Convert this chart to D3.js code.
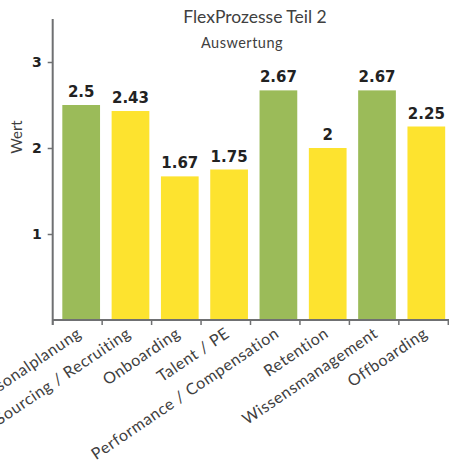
<!DOCTYPE html>
<html>
<head>
<meta charset="utf-8">
<script src="https://cdn.jsdelivr.net/npm/d3@7"></script>
<style>
  html, body { margin: 0; padding: 0; background: #fff; }
  svg { display: block; font-family: Lato, "Open Sans", sans-serif; }
</style>
</head>
<body>
<svg id="chart" width="449" height="472"></svg>
<script>
// Process areas and their average score
const categories = [
  "Personalplanung",
  "Sourcing / Recruiting",
  "Onboarding",
  "Talent / PE",
  "Performance / Compensation",
  "Retention",
  "Wissensmanagement",
  "Offboarding"
];
const values = [2.5, 2.43, 1.67, 1.75, 2.67, 2, 2.67, 2.25];
const barColors = ["#9bbb59", "#fde32f", "#fde32f", "#fde32f", "#9bbb59", "#fde32f", "#9bbb59", "#fde32f"];
const yTicks = [1, 2, 3];

const titleText = "FlexProzesse Teil 2";
const subtitleText = "Auswertung";
const yLabel = "Wert";

const svg = d3.select("#chart");
const axisColor = "#6f7072";
const textColor = "#404040";

const left = 52.7, right = 448.3, bottom = 320;

// Band scale for the category axis (ticks sit on band edges)
const xAxisScale = d3.scaleBand().domain(categories).range([left, right]);
// Band scale for the bars
const xBar = d3.scaleBand().domain(categories).range([56.5, 451]).paddingInner(0.235).paddingOuter(0.118);
const y = d3.scaleLinear().domain([0, 3.5]).range([bottom, bottom - 3.5 * 86]);

// Bars
svg.append("g").selectAll("rect")
  .data(categories)
  .join("rect")
  .attr("x", d => xBar(d))
  .attr("width", xBar.bandwidth())
  .attr("y", (d, i) => y(values[i]))
  .attr("height", (d, i) => y(0) - y(values[i]))
  .attr("fill", (d, i) => barColors[i]);

// Value labels
svg.append("g").selectAll("text")
  .data(categories)
  .join("text")
  .attr("x", d => xBar(d) + xBar.bandwidth() / 2)
  .attr("y", (d, i) => y(values[i]) - 8)
  .attr("text-anchor", "middle")
  .attr("font-family", "DejaVu Sans")
  .attr("font-weight", "bold")
  .attr("font-size", 15)
  .attr("fill", "#222")
  .text((d, i) => d3.format("~g")(values[i]));

// Y axis
const yAxis = svg.append("g")
  .attr("transform", `translate(${left},0)`)
  .call(d3.axisLeft(y).tickValues(yTicks).tickSize(5).tickPadding(6).tickFormat(d3.format("d")));
yAxis.select(".domain").attr("d", `M0,${y(3.5)}V${bottom + 5}`).attr("stroke", axisColor).attr("stroke-width", 2);
yAxis.selectAll(".tick line").attr("stroke", axisColor).attr("stroke-width", 1.5);
yAxis.selectAll(".tick text")
  .attr("font-family", "DejaVu Sans")
  .attr("font-weight", "bold")
  .attr("font-size", 14)
  .attr("fill", "#222");

// X axis with ticks on band boundaries
const xAxis = svg.append("g").attr("transform", `translate(0,${bottom})`);
xAxis.append("path")
  .attr("d", `M${left},0H${right + 1}`)
  .attr("stroke", axisColor)
  .attr("stroke-width", 2)
  .attr("fill", "none");
const edges = categories.map(d => xAxisScale(d)).concat([right]);
xAxis.selectAll("line.edge")
  .data(edges)
  .join("line")
  .attr("class", "edge")
  .attr("x1", d => d).attr("x2", d => d)
  .attr("y1", 0).attr("y2", 5)
  .attr("stroke", axisColor)
  .attr("stroke-width", 1.5);
xAxis.selectAll("text.cat")
  .data(categories)
  .join("text")
  .attr("class", "cat")
  .attr("text-anchor", "end")
  .attr("font-size", 16)
  .attr("letter-spacing", 0.6)
  .attr("fill", textColor)
  .attr("transform", d => `translate(${xAxisScale(d) + xAxisScale.bandwidth() / 2 + 5},${16}) rotate(-34)`)
  .text(d => d);

// Axis title
svg.append("text")
  .attr("transform", `translate(22,137) rotate(-90)`)
  .attr("text-anchor", "middle")
  .attr("font-size", 15)
  .attr("fill", textColor)
  .text(yLabel);

// Title and subtitle
svg.append("text")
  .attr("x", 255).attr("y", 23)
  .attr("text-anchor", "middle")
  .attr("font-size", 17.5)
  .attr("fill", textColor)
  .text(titleText);
svg.append("text")
  .attr("x", 242).attr("y", 48)
  .attr("text-anchor", "middle")
  .attr("font-size", 14.5)
  .attr("letter-spacing", 0.5)
  .attr("fill", textColor)
  .text(subtitleText);
</script>
</body>
</html>
